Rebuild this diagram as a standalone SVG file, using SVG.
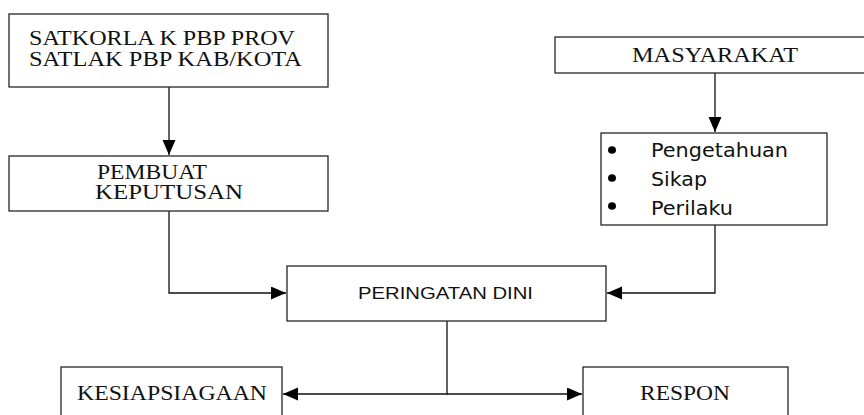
<svg xmlns="http://www.w3.org/2000/svg" width="864" height="415" viewBox="0 0 864 415">
<style>
.box{fill:#fff;stroke:#262626;stroke-width:1.3}
.ser{font-family:"Liberation Serif","Times New Roman",serif;font-size:20px;fill:#111}
.san{font-family:"Liberation Sans",Arial,sans-serif;font-size:17px;fill:#111}
.ver{font-family:"DejaVu Sans",Verdana,sans-serif;font-size:19px;fill:#111}
.con{fill:none;stroke:#111;stroke-width:1.3}
</style>
<defs>
<marker id="ah" markerUnits="userSpaceOnUse" markerWidth="16" markerHeight="14" refX="15" refY="6.5" orient="auto">
<path d="M0,0 L15,6.5 L0,13 Z" fill="#000"/>
</marker>
</defs>
<rect width="864" height="415" fill="#fff"/>
<g id="connectors">
<path class="con" d="M169,87 V155" marker-end="url(#ah)"/>
<path class="con" d="M715,73 V132" marker-end="url(#ah)"/>
<path class="con" d="M169,211 V293 H286" marker-end="url(#ah)"/>
<path class="con" d="M715,225 V293 H607" marker-end="url(#ah)"/>
<path class="con" d="M447,321 V394 H283" marker-end="url(#ah)"/>
<path class="con" d="M447,394 H582" marker-end="url(#ah)"/>
</g>
<g id="satkorla">
<rect class="box" x="9" y="14" width="319" height="73"/>
<text class="ser" x="29" y="45" textLength="266" lengthAdjust="spacingAndGlyphs">SATKORLA K PBP PROV</text>
<text class="ser" x="29" y="66" textLength="273" lengthAdjust="spacingAndGlyphs">SATLAK PBP KAB/KOTA</text>
</g>
<g id="pembuat">
<rect class="box" x="9" y="156" width="319" height="55"/>
<text class="ser" x="97" y="179" textLength="110" lengthAdjust="spacingAndGlyphs">PEMBUAT</text>
<text class="ser" x="95" y="199" textLength="148" lengthAdjust="spacingAndGlyphs">KEPUTUSAN</text>
</g>
<g id="masyarakat">
<rect class="box" x="555" y="37" width="320" height="36"/>
<text class="ser" x="632" y="62" textLength="166" lengthAdjust="spacingAndGlyphs">MASYARAKAT</text>
</g>
<g id="faktor">
<rect class="box" x="601" y="133" width="226" height="92"/>
<ellipse cx="612" cy="150" rx="4" ry="3.8" fill="#000"/>
<ellipse cx="612" cy="178" rx="4" ry="3.8" fill="#000"/>
<ellipse cx="612" cy="206" rx="4" ry="3.8" fill="#000"/>
<text class="ver" x="651" y="157" textLength="137" lengthAdjust="spacingAndGlyphs">Pengetahuan</text>
<text class="ver" x="651" y="186" textLength="56" lengthAdjust="spacingAndGlyphs">Sikap</text>
<text class="ver" x="651" y="215" textLength="82" lengthAdjust="spacingAndGlyphs">Perilaku</text>
</g>
<g id="peringatan">
<rect class="box" x="287" y="266" width="319" height="55"/>
<text class="san" x="358" y="299" textLength="175" lengthAdjust="spacingAndGlyphs">PERINGATAN DINI</text>
</g>
<g id="kesiapsiagaan">
<rect class="box" x="61" y="367" width="221" height="60"/>
<text class="ser" x="77" y="400" textLength="190" lengthAdjust="spacingAndGlyphs">KESIAPSIAGAAN</text>
</g>
<g id="respon">
<rect class="box" x="583" y="367" width="205" height="60"/>
<text class="ser" x="640" y="400" textLength="90" lengthAdjust="spacingAndGlyphs">RESPON</text>
</g>
</svg>
